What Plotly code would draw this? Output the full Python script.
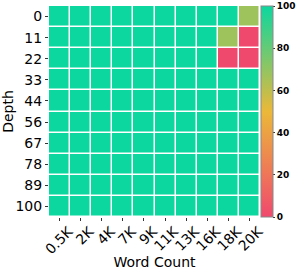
import plotly.graph_objects as go

word_counts = ["0.5K", "2K", "4K", "7K", "9K", "11K", "13K", "16K", "18K", "20K"]
depths = ["0", "11", "22", "33", "44", "56", "67", "78", "89", "100"]

row_0 = [100, 100, 100, 100, 100, 100, 100, 100, 100, 67]
row_11 = [100, 100, 100, 100, 100, 100, 100, 100, 67, 0]
row_22 = [100, 100, 100, 100, 100, 100, 100, 100, 0, 0]
row_33 = [100] * 10
row_44 = [100] * 10
row_56 = [100] * 10
row_67 = [100] * 10
row_78 = [100] * 10
row_89 = [100] * 10
row_100 = [100] * 10

z = [row_0, row_11, row_22, row_33, row_44, row_56, row_67, row_78, row_89, row_100]

colorscale = [[0.0, "#F0496E"], [0.5, "#EBB839"], [1.0, "#0CD79F"]]

font_family = "DejaVu Sans"

fig = go.Figure(
    go.Heatmap(
        z=z,
        x=word_counts,
        y=depths,
        zmin=0,
        zmax=100,
        colorscale=colorscale,
        xgap=1.5,
        ygap=1.5,
        hoverinfo="skip",
        colorbar=dict(
            x=1.004,
            xanchor="left",
            xpad=0,
            ypad=0,
            y=0.5,
            yanchor="middle",
            len=1,
            lenmode="fraction",
            thickness=12,
            outlinewidth=1,
            outlinecolor="#888888",
            tickvals=[0, 20, 40, 60, 80, 100],
            ticks="outside",
            ticklen=2,
            tickcolor="#333333",
            tickfont=dict(family=font_family, size=9, color="black", weight="bold"),
        ),
    )
)

fig.update_layout(
    width=299,
    height=272,
    margin=dict(l=49, r=39, t=6, b=55, autoexpand=False),
    plot_bgcolor="white",
    paper_bgcolor="white",
    font=dict(family=font_family, color="black"),
)

fig.update_xaxes(
    title=dict(text="Word Count", font=dict(size=14), standoff=0),
    tickangle=-45,
    tickfont=dict(size=14),
    ticklabelshift=9,
    ticklabelstandoff=-3,
    ticks="outside",
    ticklen=3,
    tickcolor="#333333",
    showgrid=False,
    zeroline=False,
    showline=False,
    automargin=False,
)
fig.update_yaxes(
    title=dict(text="Depth", font=dict(size=14), standoff=4),
    autorange="reversed",
    tickfont=dict(size=14),
    ticks="outside",
    ticklen=3,
    tickcolor="#333333",
    showgrid=False,
    zeroline=False,
    showline=False,
    automargin=False,
)

fig.write_html(
    "out.html",
    config={"displayModeBar": False},
    post_script="document.body.style.margin='0px';document.body.style.overflow='hidden';",
)
